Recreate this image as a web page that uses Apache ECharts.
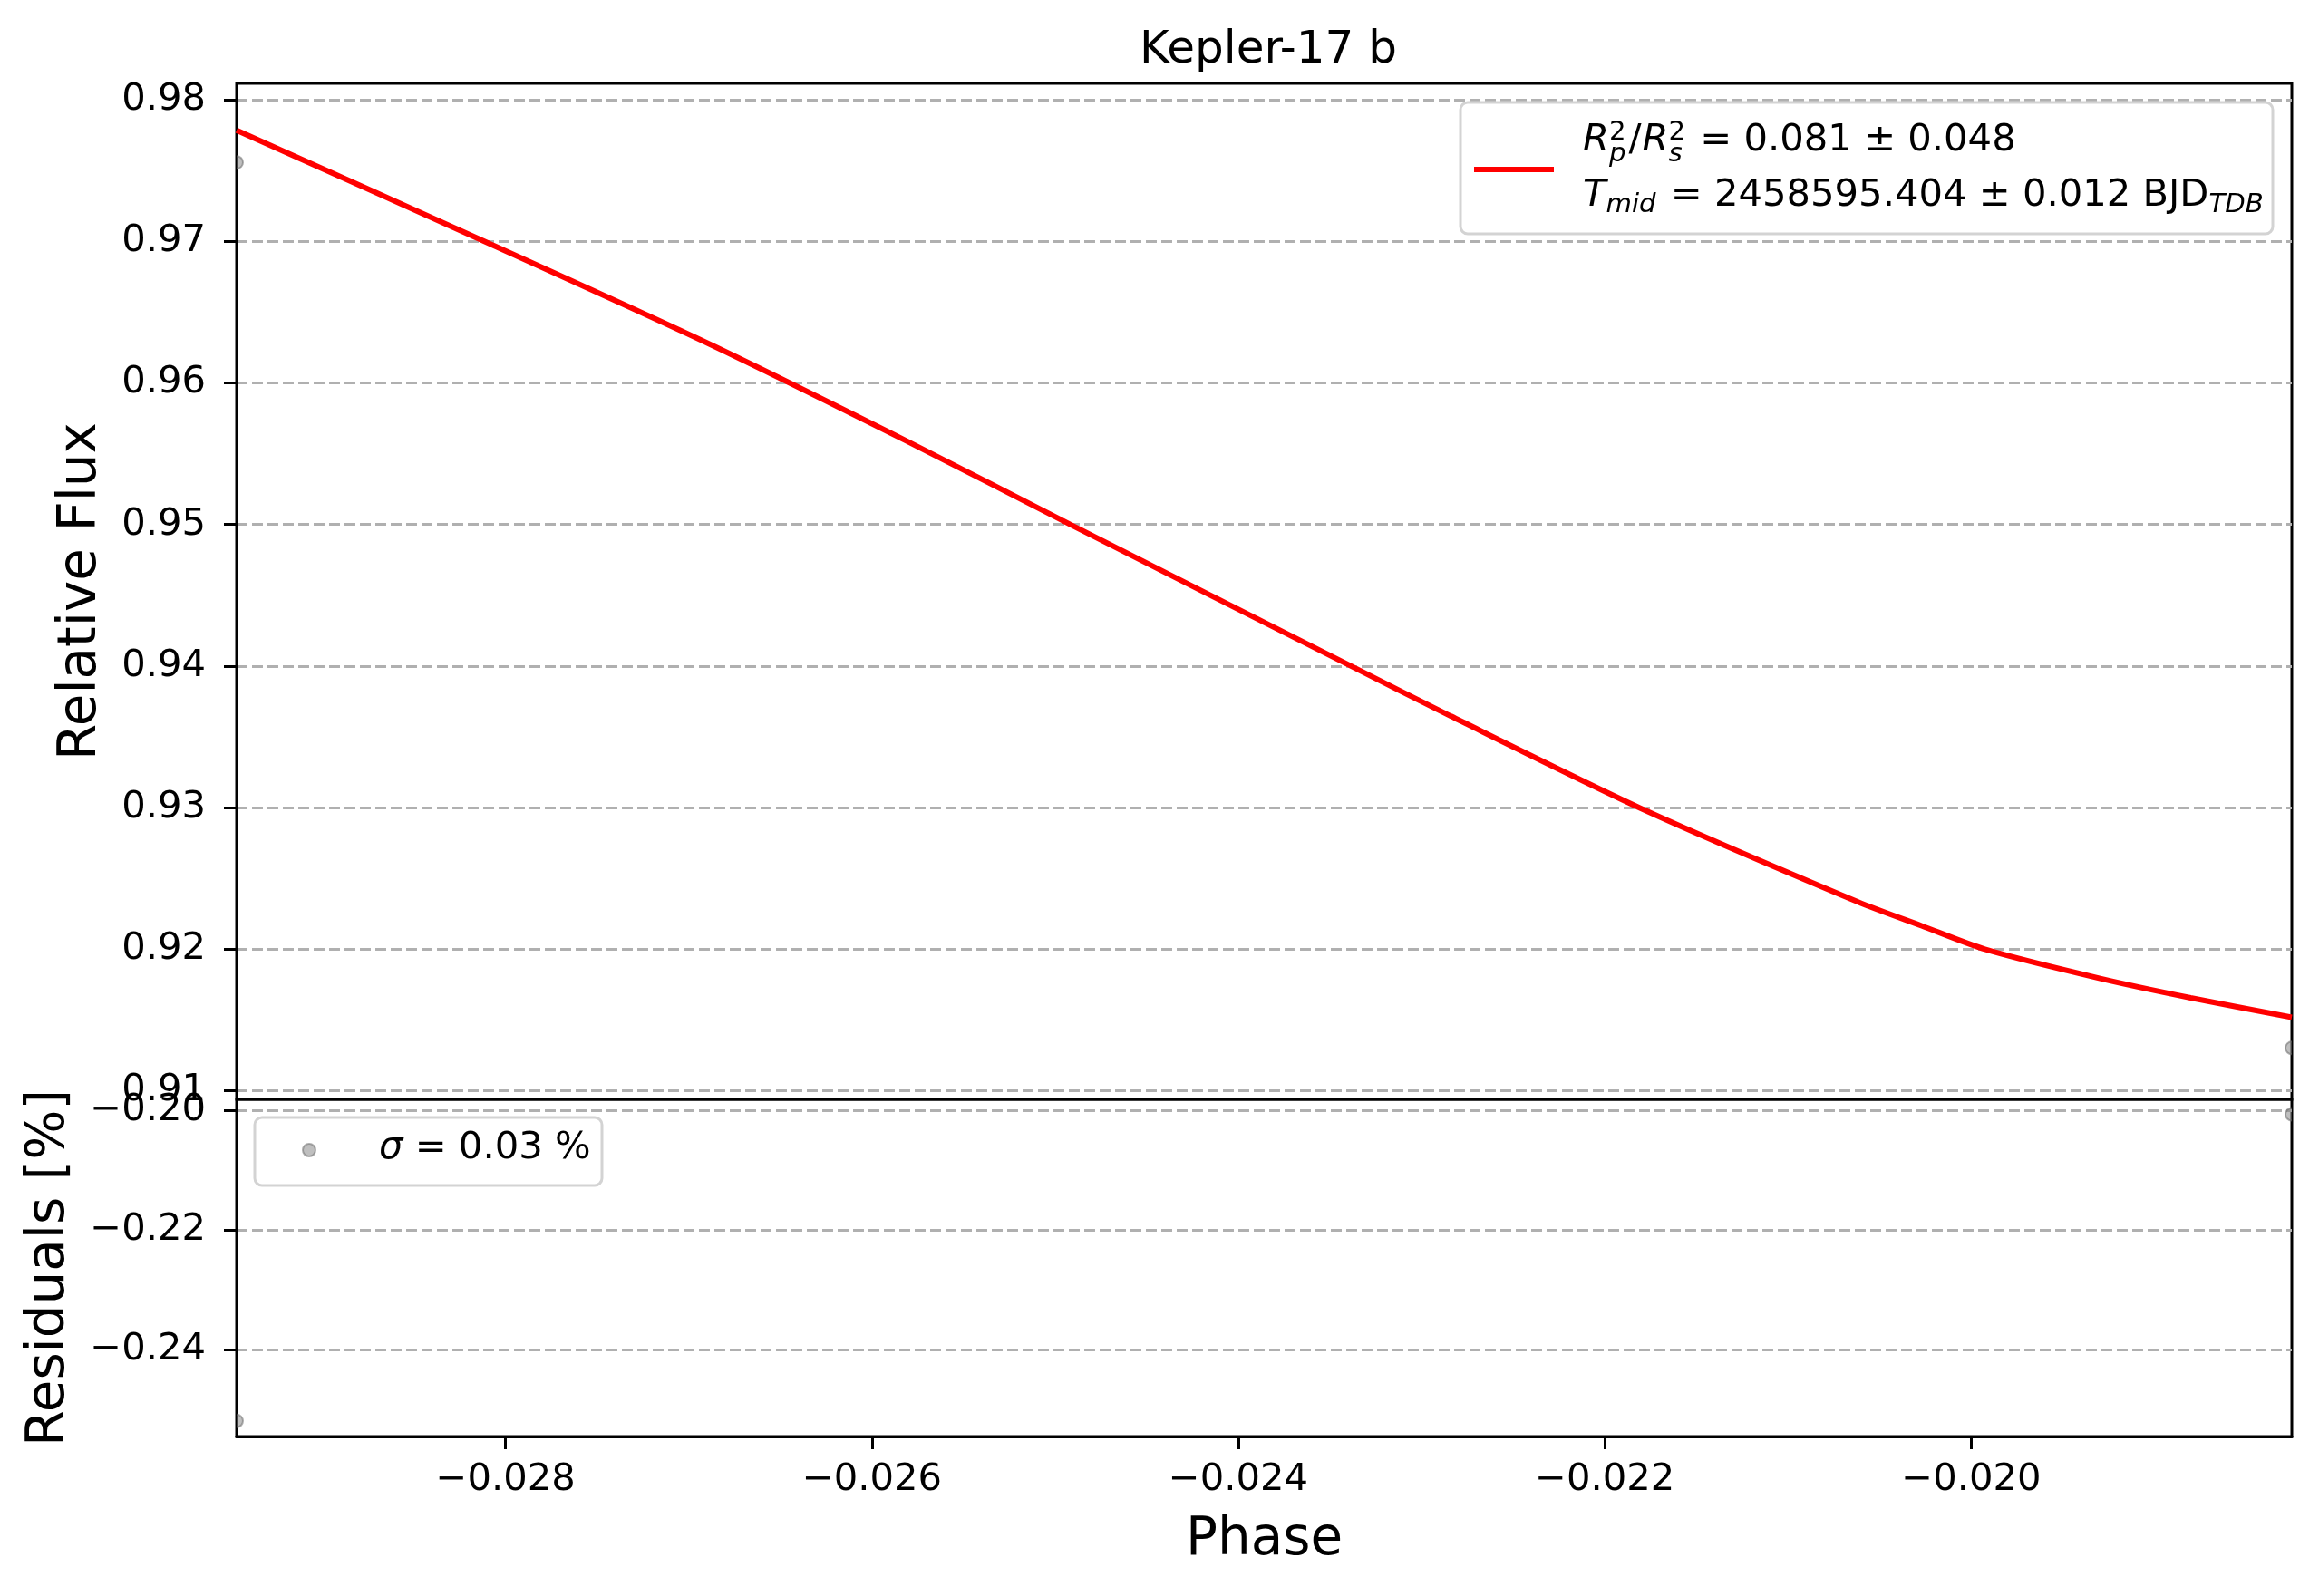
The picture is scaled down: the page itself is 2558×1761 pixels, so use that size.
<!DOCTYPE html>
<html>
<head>
<meta charset="utf-8">
<script src="https://cdn.jsdelivr.net/npm/echarts@6/dist/echarts.min.js"></script>
<style>
html,body{margin:0;padding:0;background:#fff;}
#chart{width:2558px;height:1761px;}
</style>
</head>
<body>
<div id="chart"></div>
<script>
// ---- data ----
const modelPhase = [-0.029468, -0.028116, -0.026896, -0.025808, -0.024918, -0.023385, -0.022841, -0.021811, -0.020617, -0.020271, -0.019925, -0.019296, -0.018802, -0.018250];
const modelFlux  = [0.97784, 0.97000, 0.96280, 0.95588, 0.95000, 0.94000, 0.93647, 0.93000, 0.92334, 0.92166, 0.92000, 0.91794, 0.91657, 0.91519];
const obsPhase   = [-0.029468, -0.018250];
const obsFlux    = [0.97557, 0.91303];
const obsResid   = [-0.2519, -0.2006];
const phaseTicks = [-0.028, -0.026, -0.024, -0.022, -0.020];
const fluxTicks  = [0.91, 0.92, 0.93, 0.94, 0.95, 0.96, 0.97, 0.98];
const residTicks = [-0.24, -0.22, -0.20];
const titleText  = 'Kepler-17 b';

const FONT = 'DejaVu Sans';
const FS = 41.7, SS = 29.2;
const fmt = d => v => (v < 0 ? '\u2212' : '') + Math.abs(v).toFixed(d);

const chart = echarts.init(document.getElementById('chart'), null, {renderer: 'canvas'});

// text measurement for the legend math-like labels
const mctx = document.createElement('canvas').getContext('2d');
function fontStr(size, italic){ return (italic ? 'italic ' : '') + size + 'px "' + FONT + '"'; }
function tw(s, size, italic){ mctx.font = fontStr(size, italic); return mctx.measureText(s).width; }
function textEl(t, x, baseline, size, italic){
  return {type:'text', x: x, y: baseline - 0.35*size, z: 101,
    style:{text:t, font: fontStr(size, italic), fill:'#000', align:'left', verticalAlign:'middle'}};
}
function layoutRuns(list, x0, baseline){
  const els = []; let x = x0;
  list.forEach(r => {
    if (r.stack){
      const w = Math.max.apply(null, r.stack.map(s => tw(s.t, s.size, s.italic)));
      r.stack.forEach(s => els.push(textEl(s.t, x, baseline + s.dy, s.size, s.italic)));
      x += w + (r.after || 0);
    } else {
      els.push(textEl(r.t, x, baseline + (r.dy || 0), r.size, r.italic));
      x += tw(r.t, r.size, r.italic) + (r.after || 0);
    }
  });
  return els;
}

const line1 = layoutRuns([
  {t:'R', size:FS, italic:true},
  {stack:[{t:'2', size:SS, italic:false, dy:-13}, {t:'p', size:SS, italic:true, dy:11}], after:3},
  {t:'/', size:FS, italic:false, after:1},
  {t:'R', size:FS, italic:true},
  {stack:[{t:'2', size:SS, italic:false, dy:-13}, {t:'s', size:SS, italic:true, dy:11}], after:3},
  {t:' = 0.081 \u00b1 0.048', size:FS, italic:false}
], 1746, 170);
const line2 = layoutRuns([
  {t:'T', size:FS, italic:true},
  {t:'mid', size:SS, italic:true, dy:6, after:3},
  {t:' = 2458595.404 \u00b1 0.012 BJD', size:FS, italic:false},
  {t:'TDB', size:SS, italic:true, dy:6}
], 1746, 231);
const line3 = layoutRuns([
  {t:'\u03c3', size:FS, italic:true},
  {t:' = 0.03 %', size:FS, italic:false}
], 418, 1282);

const pointItem = (params, api) => {
  const p = api.coord([api.value(0), api.value(1)]);
  return {type:'circle', shape:{cx:p[0], cy:p[1], r:7},
    style:{fill:'rgba(128,128,128,0.5)', stroke:'rgba(110,110,110,0.55)', lineWidth:2}};
};

const axisFont = {fontSize:FS, color:'#000', fontFamily:FONT};
const nameFont = {fontSize:58, color:'#000', fontFamily:FONT};
const gridLine = {show:true, lineStyle:{color:'#b0b0b0', width:3, type:[12,5]}};
const blackLine = {show:true, lineStyle:{color:'#000', width:3}};

const option = {
  animation:false,
  backgroundColor:'#fff',
  title:{text:titleText, left:1394, top:26, textAlign:'center',
    textStyle:{fontSize:50, fontWeight:'normal', color:'#000', fontFamily:FONT}},
  grid:[
    {left:261, top:92, width:2267, height:1121, show:true, borderColor:'#000', borderWidth:3, backgroundColor:'transparent'},
    {left:261, top:1213, width:2267, height:372, show:true, borderColor:'#000', borderWidth:3, backgroundColor:'transparent'}
  ],
  xAxis:[
    {gridIndex:0, type:'value', min:obsPhase[0], max:obsPhase[1],
      axisLine:{show:false}, axisTick:{show:false}, axisLabel:{show:false}, splitLine:{show:false}},
    {gridIndex:1, type:'value', min:obsPhase[0], max:obsPhase[1],
      axisLine:blackLine,
      axisTick:{show:true, length:14, lineStyle:{color:'#000', width:3}, customValues:phaseTicks},
      axisLabel:Object.assign({customValues:phaseTicks, formatter:fmt(3), margin:27}, axisFont),
      splitLine:{show:false},
      name:'Phase', nameLocation:'middle', nameGap:86, nameTextStyle:nameFont}
  ],
  yAxis:[
    {gridIndex:0, type:'value', min:0.9094, max:0.98115,
      axisLine:blackLine,
      axisTick:{show:true, length:14, lineStyle:{color:'#000', width:3}, customValues:fluxTicks},
      axisLabel:Object.assign({customValues:fluxTicks, formatter:fmt(2), margin:34}, axisFont),
      splitLine:gridLine,
      name:'Relative Flux', nameLocation:'middle', nameGap:142, nameTextStyle:nameFont},
    {gridIndex:1, type:'value', min:-0.2545, max:-0.1981,
      axisLine:blackLine,
      axisTick:{show:true, length:14, lineStyle:{color:'#000', width:3}, customValues:residTicks},
      axisLabel:Object.assign({customValues:residTicks, formatter:fmt(2), margin:34}, axisFont),
      splitLine:gridLine,
      name:'Residuals [%]', nameLocation:'middle', nameGap:177, nameTextStyle:nameFont}
  ],
  series:[
    {type:'custom', name:'data', xAxisIndex:0, yAxisIndex:0, clip:true, z:2,
      data: obsPhase.map((x,i) => [x, obsFlux[i]]), renderItem:pointItem},
    {type:'line', name:'model', xAxisIndex:0, yAxisIndex:0, z:3,
      data: modelPhase.map((x,i) => [x, modelFlux[i]]),
      showSymbol:false, smooth:0.25,
      lineStyle:{color:'#ff0000', width:6}},
    {type:'custom', name:'residuals', xAxisIndex:1, yAxisIndex:1, clip:true, z:2,
      data: obsPhase.map((x,i) => [x, obsResid[i]]), renderItem:pointItem}
  ],
  graphic:[
    {type:'rect', z:100, shape:{x:1611, y:113, width:896, height:145, r:8},
      style:{fill:'rgba(255,255,255,0.8)', stroke:'#d3d3d3', lineWidth:3}},
    {type:'line', z:101, shape:{x1:1626, y1:187, x2:1714, y2:187},
      style:{stroke:'#ff0000', lineWidth:6}},
    {type:'rect', z:100, shape:{x:281, y:1233, width:383, height:75, r:8},
      style:{fill:'rgba(255,255,255,0.8)', stroke:'#d3d3d3', lineWidth:3}},
    {type:'circle', z:101, shape:{cx:341, cy:1269, r:7},
      style:{fill:'rgba(128,128,128,0.5)', stroke:'rgba(110,110,110,0.55)', lineWidth:2}}
  ].concat(line1, line2, line3)
};
chart.setOption(option);
</script>
</body>
</html>
